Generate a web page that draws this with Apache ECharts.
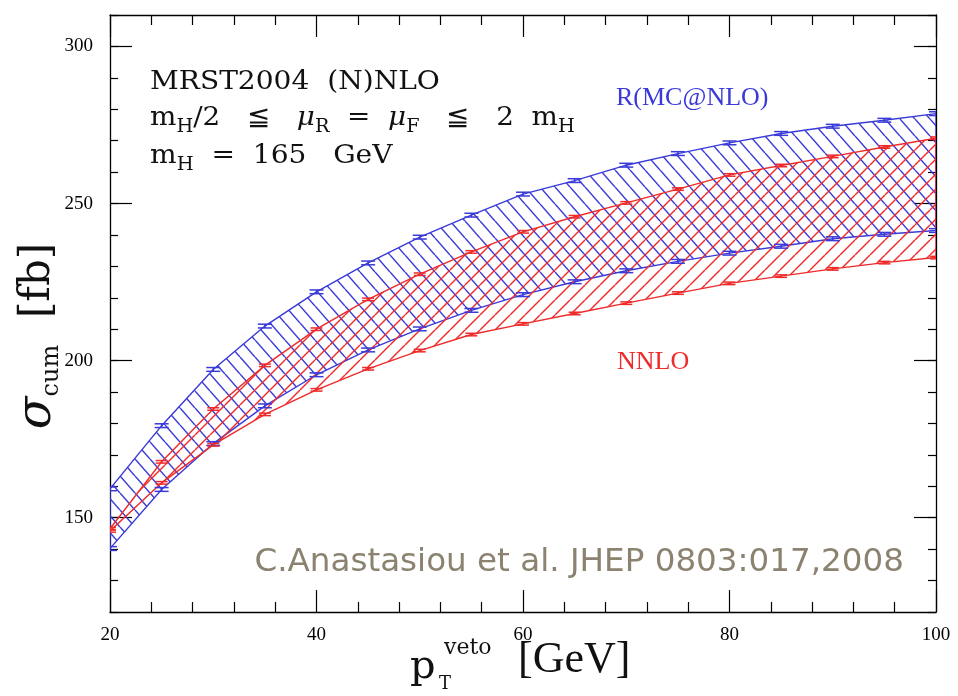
<!DOCTYPE html>
<html>
<head>
<meta charset="utf-8">
<script src="https://cdn.jsdelivr.net/npm/echarts@6/dist/echarts.min.js"></script>
<style>
html, body { margin: 0; padding: 0; background: #fff; }
#chart { width: 958px; height: 696px; }
</style>
</head>
<body>
<div id="chart"></div>
<script>
// pT veto values (GeV) where the cross sections were computed
var ptVeto = [20, 25, 30, 35, 40, 45, 50, 55, 60, 65, 70, 75, 80, 85, 90, 95, 100];
// R(MC@NLO) band, sigma_cum in fb
var mcnloUpper = [159.2, 179.3, 197.2, 211.0, 221.9, 231.1, 239.3, 246.3, 253.0, 257.3, 262.2, 265.9, 269.3, 272.3, 274.6, 276.5, 278.6];
var mcnloLower = [140.2, 159.0, 173.6, 185.6, 195.5, 203.4, 210.1, 216.0, 221.0, 225.1, 228.6, 231.6, 234.2, 236.4, 238.8, 240.2, 241.4];
// NNLO band
var nnloUpper = [146.5, 167.8, 184.6, 198.5, 210.0, 219.5, 227.5, 234.6, 241.0, 245.8, 250.2, 254.6, 259.1, 262.1, 265.0, 268.0, 270.8];
var nnloLower = [145.8, 161.1, 173.2, 182.9, 190.7, 197.4, 203.2, 208.3, 211.7, 215.0, 218.3, 221.5, 224.6, 226.9, 229.2, 231.2, 232.8];
// small statistical errors on each point
var mcnloErr = 0.6;
var nnloErr = 0.4;
var yTicks = [150, 200, 250, 300];

var BLUE = '#3a3ad8';
var RED = '#ee2a2a';

function hatch(color, w, h, dir) {
    var c = document.createElement('canvas');
    c.width = w;
    c.height = h;
    var ctx = c.getContext('2d');
    ctx.strokeStyle = color;
    ctx.lineWidth = 1.45;
    for (var k = -1; k <= 1; k++) {
        ctx.beginPath();
        if (dir > 0) {
            ctx.moveTo(k * w, h);
            ctx.lineTo(k * w + w, 0);
        } else {
            ctx.moveTo(k * w, 0);
            ctx.lineTo(k * w + w, h);
        }
        ctx.stroke();
    }
    return c;
}

function bandRows(xs, lo, hi) {
    var out = [];
    for (var i = 0; i < xs.length; i++) out.push([xs[i], lo[i], hi[i]]);
    return out;
}

function errRows(xs, ys, e) {
    var out = [];
    for (var i = 0; i < xs.length; i++) out.push([xs[i], ys[i] - e, ys[i] + e]);
    return out;
}

// hatched band: one polygon from all rows, upper edge then lower edge back
function bandSeries(color, rows, pattern) {
    return {
        type: 'custom',
        data: rows,
        z: 3,
        clip: true,
        encode: { x: 0, y: [1, 2] },
        renderItem: function (params, api) {
            if (params.dataIndexInside !== 0) return null;
            var n = params.dataInsideLength;
            var pts = [];
            for (var i = 0; i < n; i++) pts.push(api.coord([api.value(0, i), api.value(2, i)]));
            for (var j = n - 1; j >= 0; j--) pts.push(api.coord([api.value(0, j), api.value(1, j)]));
            return {
                type: 'polygon',
                shape: { points: pts },
                style: { fill: { image: pattern, repeat: 'repeat' }, stroke: color, lineWidth: 1.4 }
            };
        }
    };
}

function errorBars(color, capW, rows) {
    return {
        type: 'custom',
        data: rows,
        z: 6,
        clip: true,
        encode: { x: 0, y: [1, 2] },
        renderItem: function (params, api) {
            var x = api.value(0);
            var p1 = api.coord([x, api.value(2)]);
            var p2 = api.coord([x, api.value(1)]);
            var half = capW / 2;
            var st = { stroke: color, lineWidth: 1.5 };
            return {
                type: 'group',
                children: [
                    { type: 'line', shape: { x1: p1[0] - half, y1: p1[1], x2: p1[0] + half, y2: p1[1] }, style: st },
                    { type: 'line', shape: { x1: p2[0] - half, y1: p2[1], x2: p2[0] + half, y2: p2[1] }, style: st },
                    { type: 'line', shape: { x1: p1[0], y1: p1[1], x2: p2[0], y2: p2[1] }, style: st }
                ]
            };
        }
    };
}

var tickFont = { color: '#000', fontFamily: 'Liberation Serif', fontSize: 19 };
var axisLine = { show: true, lineStyle: { color: '#000', width: 1.3 } };
var tickLine = { color: '#000', width: 1.2 };
var sub = { fontSize: 18, fontFamily: 'DejaVu Serif', lineHeight: 14, verticalAlign: 'bottom', fill: '#111' };

var myChart = echarts.init(document.getElementById('chart'));

var series = [
    bandSeries(BLUE, bandRows(ptVeto, mcnloLower, mcnloUpper), hatch(BLUE, 15, 17, -1)),
    bandSeries(RED, bandRows(ptVeto, nnloLower, nnloUpper), hatch(RED, 15, 15, 1)),
    errorBars(BLUE, 14, errRows(ptVeto, mcnloUpper, mcnloErr)),
    errorBars(BLUE, 14, errRows(ptVeto, mcnloLower, mcnloErr)),
    errorBars(RED, 12, errRows(ptVeto, nnloUpper, nnloErr)),
    errorBars(RED, 12, errRows(ptVeto, nnloLower, nnloErr))
];

var option = {
    animation: false,
    backgroundColor: '#fff',
    grid: { left: 110, right: 22, top: 15, bottom: 84 },
    xAxis: [{
        type: 'value', position: 'bottom', min: 20, max: 100, interval: 20,
        axisLine: axisLine,
        axisTick: { inside: true, length: 22, lineStyle: tickLine },
        minorTick: { show: true, splitNumber: 5, length: 10, lineStyle: tickLine },
        axisLabel: Object.assign({ margin: 14 }, tickFont),
        splitLine: { show: false }
    }, {
        type: 'value', position: 'top', min: 20, max: 100, interval: 20,
        axisLine: axisLine,
        axisTick: { inside: true, length: 22, lineStyle: tickLine },
        minorTick: { show: true, splitNumber: 5, length: 10, lineStyle: tickLine },
        axisLabel: { show: false },
        splitLine: { show: false }
    }],
    yAxis: [{
        type: 'value', position: 'left', min: 120, max: 310,
        axisLine: axisLine,
        axisTick: { inside: true, length: 22, customValues: yTicks, lineStyle: tickLine },
        axisLabel: Object.assign({ margin: 17, customValues: yTicks }, tickFont),
        splitLine: { show: false }
    }, {
        type: 'value', position: 'left', min: 120, max: 310, interval: 10,
        axisLine: { show: false },
        axisTick: { inside: true, length: 8, lineStyle: tickLine },
        axisLabel: { show: false },
        splitLine: { show: false }
    }, {
        type: 'value', position: 'right', min: 120, max: 310,
        axisLine: axisLine,
        axisTick: { inside: true, length: 22, customValues: yTicks, lineStyle: tickLine },
        axisLabel: { show: false },
        splitLine: { show: false }
    }, {
        type: 'value', position: 'right', min: 120, max: 310, interval: 10,
        axisLine: { show: false },
        axisTick: { inside: true, length: 8, lineStyle: tickLine },
        axisLabel: { show: false },
        splitLine: { show: false }
    }],
    series: series,
    graphic: [{
        type: 'text', left: 150, top: 64, scaleX: 1.08,
        style: { text: 'MRST2004  (N)NLO', font: '26px "DejaVu Serif"', fill: '#111', lineHeight: 36 }
    }, {
        type: 'text', left: 150, top: 100, scaleX: 1.07,
        style: {
            text: 'm{s|H}/2   ≦   {mu|μ}{s|R}  =  {mu|μ}{s|F}   ≦   2  m{s|H}',
            font: '26px "DejaVu Serif"', fill: '#111', lineHeight: 36,
            rich: {
                s: sub,
                mu: { fontSize: 26, fontFamily: 'DejaVu Serif', fontStyle: 'italic', lineHeight: 36, fill: '#111' }
            }
        }
    }, {
        type: 'text', left: 150, top: 138, scaleX: 1.08,
        style: {
            text: 'm{s|H}  =  165   GeV',
            font: '26px "DejaVu Serif"', fill: '#111', lineHeight: 36,
            rich: { s: sub }
        }
    }, {
        type: 'text', left: 616, top: 85,
        style: { text: 'R(MC@NLO)', font: '26px "Liberation Serif"', fill: BLUE }
    }, {
        type: 'text', left: 617, top: 349,
        style: { text: 'NNLO', font: '26px "Liberation Serif"', fill: RED }
    }, {
        type: 'text', right: 54, top: 546,
        style: { text: 'C.Anastasiou et al. JHEP 0803:017,2008', font: '32.6px "DejaVu Sans"', fill: '#8b8370' }
    }, {
        type: 'text', x: 38, y: 336, rotation: Math.PI / 2,
        style: {
            text: '{g|σ}{s|cum}  [fb]', align: 'center', verticalAlign: 'middle',
            font: '42px "DejaVu Serif"', fill: '#111',
            rich: {
                g: { fontSize: 48, fontFamily: 'DejaVu Serif', fontStyle: 'italic', lineHeight: 52, fill: '#111' },
                s: { fontSize: 24, fontFamily: 'DejaVu Serif', lineHeight: 18, verticalAlign: 'bottom', fill: '#111' }
            }
        }
    }, {
        type: 'text', left: 410, top: 648,
        style: { text: 'p', font: '40px "DejaVu Serif"', fill: '#111' }
    }, {
        type: 'text', left: 444, top: 637,
        style: { text: 'veto', font: '22px "DejaVu Serif"', fill: '#111' }
    }, {
        type: 'text', left: 439, top: 675,
        style: { text: 'T', font: '18px "DejaVu Serif"', fill: '#111' }
    }, {
        type: 'text', left: 518, top: 638,
        style: { text: '[GeV]', font: '44px "Liberation Serif"', fill: '#111' }
    }]
};

myChart.setOption(option);
</script>
</body>
</html>
